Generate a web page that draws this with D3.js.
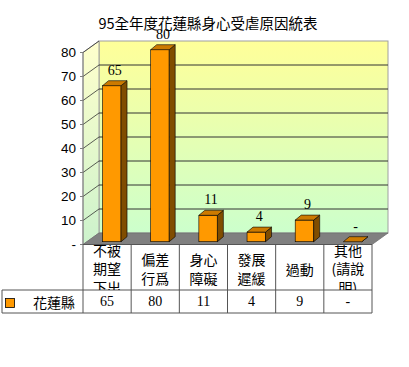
<!DOCTYPE html>
<html>
<head>
<meta charset="utf-8">
<script src="https://cdnjs.cloudflare.com/ajax/libs/d3/7.8.5/d3.min.js"></script>
<style>
body { margin: 0; background: #fff; }
svg { display: block; }
</style>
</head>
<body>
<svg id="chart" width="409" height="367"></svg>
<script>
var title = "95全年度花蓮縣身心受虐原因統表"
var seriesName = "花蓮縣"
var categories = ["不被期望下出生", "偏差行爲", "身心障礙", "發展遲緩", "過動", "其他(請說明)"]
var categoryLines = [["不被", "期望", "下出", "生"], ["偏差", "行爲"], ["身心", "障礙"], ["發展", "遲緩"], ["過動"], ["其他", "(請說", "明)"]]
var values = [65, 80, 11, 4, 9, 0]
var valueLabels = ["65", "80", "11", "4", "9", "-"]
var yTicks = [0, 10, 20, 30, 40, 50, 60, 70, 80]
var yTickLabels = ["-", "10", "20", "30", "40", "50", "60", "70", "80"]

var svg = d3.select("#chart")
var cjk = "'Noto Sans CJK TC', 'Noto Sans', sans-serif"
var serif = "'Liberation Serif', 'DejaVu Serif', serif"

// 3d offsets
var dx = 16, dy = -11.5     // wall depth
var bw = 18.5, bdx = 6, bdy = -5   // bar width and depth
var box = 4.7, boy = -2.8   // bar plane offset from front

var x = d3.scaleBand().domain(categories).range([83, 372]).padding(0)
var y = d3.scaleLinear().domain([0, 80]).range([244.5, 52.5])

var defs = svg.append("defs")
var g1 = defs.append("linearGradient").attr("id", "wall").attr("x1", 0).attr("y1", 0).attr("x2", 0).attr("y2", 1)
g1.append("stop").attr("offset", "0%").attr("stop-color", "#ffff99")
g1.append("stop").attr("offset", "100%").attr("stop-color", "#ccffcc")
var g2 = defs.append("linearGradient").attr("id", "side").attr("x1", 0).attr("y1", 0).attr("x2", 0).attr("y2", 1)
g2.append("stop").attr("offset", "0%").attr("stop-color", "#ffffcc")
g2.append("stop").attr("offset", "100%").attr("stop-color", "#ccf2cc")
defs.append("clipPath").attr("id", "catclip")
	.append("rect").attr("x", 83).attr("y", 245).attr("width", 289).attr("height", 45)

var x0 = x.range()[0], x1 = x.range()[1]
var yb0 = y(0), yb80 = y(80)

// back wall
svg.append("rect")
	.attr("x", x0 + dx).attr("y", yb80 + dy)
	.attr("width", x1 - x0).attr("height", yb0 - yb80)
	.attr("fill", "url(#wall)").attr("stroke", "#a0a0a0").attr("stroke-width", 1)

// left wall
svg.append("polygon")
	.attr("points", [[x0, yb80], [x0 + dx, yb80 + dy], [x0 + dx, yb0 + dy], [x0, yb0]].join(" "))
	.attr("fill", "url(#side)").attr("stroke", "#a0a0a0").attr("stroke-width", 1)

// gridlines
var grid = yTicks.filter(function(d) { return d > 0 })
svg.selectAll(".gridb").data(grid.filter(function(d) { return d < 80 })).enter().append("line")
	.attr("x1", x0 + dx).attr("x2", x1 + dx)
	.attr("y1", function(d) { return y(d) + dy }).attr("y2", function(d) { return y(d) + dy })
	.attr("stroke", "#333").attr("stroke-width", 1)
svg.selectAll(".grids").data(grid).enter().append("line")
	.attr("x1", x0).attr("x2", x0 + dx)
	.attr("y1", function(d) { return y(d) }).attr("y2", function(d) { return y(d) + dy })
	.attr("stroke", "#333").attr("stroke-width", 0.8)

// floor
svg.append("polygon")
	.attr("points", [[x0, yb0], [x1, yb0], [x1 + dx, yb0 + dy], [x0 + dx, yb0 + dy]].join(" "))
	.attr("fill", "#808080").attr("stroke", "#707070").attr("stroke-width", 0.8)

// axis
svg.append("line").attr("x1", x0).attr("x2", x0).attr("y1", yb80).attr("y2", yb0)
	.attr("stroke", "#808080")
svg.selectAll(".tick").data(yTicks).enter().append("line")
	.attr("x1", x0 - 3).attr("x2", x0)
	.attr("y1", function(d) { return y(d) }).attr("y2", function(d) { return y(d) })
	.attr("stroke", "#808080")
svg.selectAll(".ylab").data(yTicks).enter().append("text")
	.attr("x", 76).attr("y", function(d) { return y(d) + 4 })
	.attr("text-anchor", "end")
	.attr("font-family", "'Liberation Sans', Arial, sans-serif").attr("font-size", 13.5)
	.attr("fill", "#000")
	.text(function(d, i) { return yTickLabels[i] })

// bars
var bars = svg.selectAll(".bar").data(values).enter().append("g")
function bx(i) { return x(categories[i]) + x.bandwidth() / 2 - bw / 2 + box }
bars.append("rect")
	.attr("x", function(d, i) { return bx(i) })
	.attr("y", function(d) { return y(d) + boy })
	.attr("width", bw)
	.attr("height", function(d) { return y(0) - y(d) })
	.attr("fill", "#ff9900").attr("stroke", "#000").attr("stroke-width", 0.6)
bars.append("polygon")
	.attr("points", function(d, i) {
		var l = bx(i) + bw, t = y(d) + boy, b = y(0) + boy
		return [[l, t], [l + bdx, t + bdy], [l + bdx, b + bdy], [l, b]].join(" ")
	})
	.attr("fill", "#804d00").attr("stroke", "#000").attr("stroke-width", 0.6)
bars.append("polygon")
	.attr("points", function(d, i) {
		var l = bx(i), t = y(d) + boy
		return [[l, t], [l + bdx, t + bdy], [l + bw + bdx, t + bdy], [l + bw, t]].join(" ")
	})
	.attr("fill", "#cc7a00").attr("stroke", "#000").attr("stroke-width", 0.6)

// value labels
bars.append("text")
	.attr("x", function(d, i) { return bx(i) + bw / 2 + 3 })
	.attr("y", function(d) { return y(d) + boy - 11 })
	.attr("text-anchor", "middle")
	.attr("font-family", serif).attr("font-size", 14)
	.text(function(d, i) { return valueLabels[i] })

// title
svg.append("text")
	.attr("x", 208).attr("y", 29)
	.attr("text-anchor", "middle")
	.attr("font-family", cjk).attr("font-size", 14.5)
	.text(title)

// data table
var tTop = yb0, tMid = 290, tBot = 313
var tl = svg.append("g").attr("stroke", "#555").attr("stroke-width", 1)
tl.append("line").attr("x1", x0).attr("x2", x1).attr("y1", tTop).attr("y2", tTop)
tl.append("line").attr("x1", 2).attr("x2", x1).attr("y1", tMid).attr("y2", tMid)
tl.append("line").attr("x1", 2).attr("x2", x1).attr("y1", tBot).attr("y2", tBot)
tl.append("line").attr("x1", 2).attr("x2", 2).attr("y1", tMid).attr("y2", tBot)
tl.selectAll(".vl").data(categories.map(function(c) { return x(c) }).concat([x1])).enter().append("line")
	.attr("x1", function(d) { return d }).attr("x2", function(d) { return d })
	.attr("y1", tTop).attr("y2", tBot)

var cat = svg.append("g").attr("clip-path", "url(#catclip)")
categories.forEach(function(c, i) {
	var lines = categoryLines[i]
	var lh = 18.5
	var first = lines.length > 2 ? 250.5 : 269.5 - (lines.length - 1) * lh / 2
	lines.forEach(function(s, j) {
		cat.append("text")
			.attr("x", x(c) + x.bandwidth() / 2)
			.attr("y", first + j * lh + 5)
			.attr("text-anchor", "middle")
			.attr("font-family", cjk).attr("font-size", 14)
			.text(s)
	})
})

svg.append("rect").attr("x", 5.5).attr("y", 298.5).attr("width", 9).attr("height", 9)
	.attr("fill", "#ff9900").attr("stroke", "#000").attr("stroke-width", 0.8)
svg.append("text").attr("x", 54).attr("y", 308)
	.attr("text-anchor", "middle")
	.attr("font-family", cjk).attr("font-size", 14)
	.text(seriesName)
svg.selectAll(".tv").data(valueLabels).enter().append("text")
	.attr("x", function(d, i) { return x(categories[i]) + x.bandwidth() / 2 })
	.attr("y", 306)
	.attr("text-anchor", "middle")
	.attr("font-family", serif).attr("font-size", 14)
	.text(function(d) { return d })
</script>
</body>
</html>
